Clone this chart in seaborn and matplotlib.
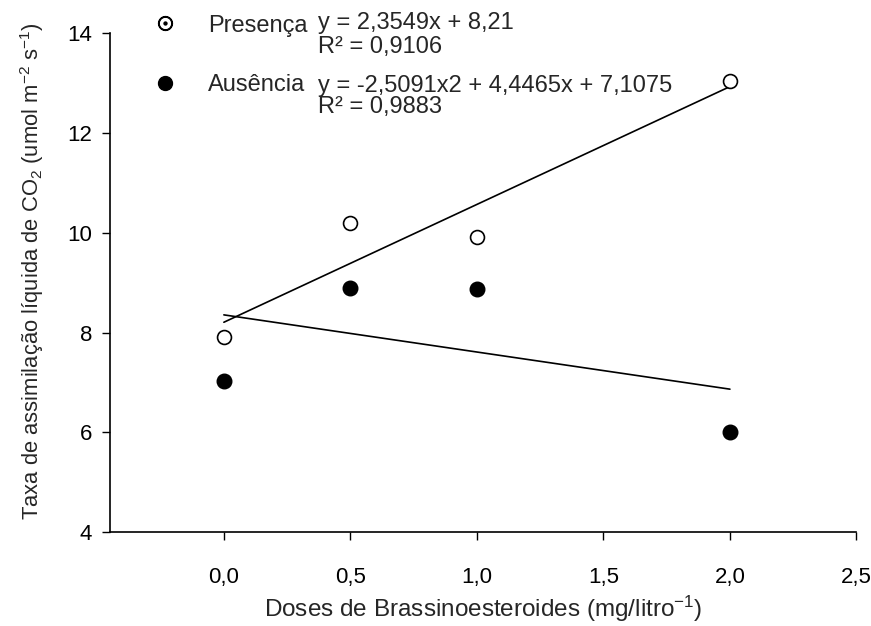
import matplotlib
matplotlib.use("Agg")
import matplotlib.pyplot as plt
from matplotlib.lines import Line2D
import seaborn as sns
import pandas as pd

doses = [0.0, 0.5, 1.0, 2.0]
presenca = [7.92, 10.20, 9.92, 13.05]
ausencia = [7.03, 8.90, 8.88, 6.00]
x_ticks = [0.0, 0.5, 1.0, 1.5, 2.0, 2.5]
x_ticklabels = ["0,0", "0,5", "1,0", "1,5", "2,0", "2,5"]
y_ticks = [4, 6, 8, 10, 12, 14]
eq_presenca = ["y = 2,3549x + 8,21", "R² = 0,9106"]
eq_ausencia = ["y = -2,5091x2 + 4,4465x + 7,1075", "R² = 0,9883"]

df = pd.DataFrame({
    "dose": doses * 2,
    "taxa": presenca + ausencia,
    "trat": ["Presença"] * 4 + ["Ausência"] * 4,
})

sns.set_style("ticks")
plt.rcParams["font.family"] = ["Liberation Sans", "DejaVu Sans"]
plt.rcParams["mathtext.fontset"] = "custom"
plt.rcParams["mathtext.rm"] = "Liberation Sans"
plt.rcParams["mathtext.it"] = "Liberation Sans:italic"
plt.rcParams["mathtext.bf"] = "Liberation Sans:bold"

fig = plt.figure(figsize=(8.71, 6.26), dpi=100)
ax = fig.add_axes([0.1263, 0.150, 0.857, 0.797])

dp = df[df.trat == "Presença"]
da = df[df.trat == "Ausência"]

sns.regplot(data=dp, x="dose", y="taxa", ci=None, scatter=False, ax=ax,
            line_kws=dict(color="black", lw=1.2))
sns.regplot(data=da, x="dose", y="taxa", ci=None, scatter=False, ax=ax,
            line_kws=dict(color="black", lw=1.2))
sns.scatterplot(data=dp, x="dose", y="taxa", ax=ax, marker="o", s=100,
                facecolor="white", edgecolor="black", linewidth=1.2, zorder=3)
sns.scatterplot(data=da, x="dose", y="taxa", ax=ax, marker="o", s=110,
                color="black", edgecolor="black", linewidth=1.0, zorder=3)

ax.set_xlim(-0.45, 2.5)
ax.set_ylim(4, 14)
ax.set_xticks(x_ticks)
ax.set_xticklabels(x_ticklabels)
ax.set_yticks(y_ticks)
ax.set_yticklabels([str(v) for v in y_ticks])
for s in ["top", "right"]:
    ax.spines[s].set_visible(False)
for s in ["left", "bottom"]:
    ax.spines[s].set_linewidth(1.2)
    ax.spines[s].set_color("black")
ax.tick_params(axis="both", direction="out", length=6, width=1.0, color="black",
               labelsize=16, labelcolor="black")
ax.tick_params(axis="x", pad=19)
ax.tick_params(axis="y", pad=7)

ax.set_xlabel("Doses de Brassinoesteroides (mg/litro$^{-1}$)", fontsize=17.5, labelpad=4)
ax.set_ylabel("Taxa de assimilação líquida de CO$_2$ (umol m$^{-2}$ s$^{-1}$)",
              fontsize=15.8)
ax.yaxis.set_label_coords(-0.086, 0.523)

handles = [
    Line2D([], [], ls="none", marker=r"$\odot$", ms=10, color="black"),
    Line2D([], [], ls="none", marker="o", ms=10, mfc="black", mec="black"),
]
leg = ax.legend(handles, ["Presença", "Ausência"], loc="upper left",
                bbox_to_anchor=(0.03, 1.08), frameon=False, fontsize=17,
                labelspacing=1.6, handletextpad=1.3, handlelength=1.0)

fs = 17
ax.text(0.279, 1.020, eq_presenca[0], transform=ax.transAxes, fontsize=fs, va="center")
ax.text(0.279, 0.972, eq_presenca[1], transform=ax.transAxes, fontsize=fs, va="center")
ax.text(0.279, 0.894, eq_ausencia[0], transform=ax.transAxes, fontsize=fs, va="center")
ax.text(0.279, 0.852, eq_ausencia[1], transform=ax.transAxes, fontsize=fs, va="center")

fig.savefig("out.png", dpi=100)
